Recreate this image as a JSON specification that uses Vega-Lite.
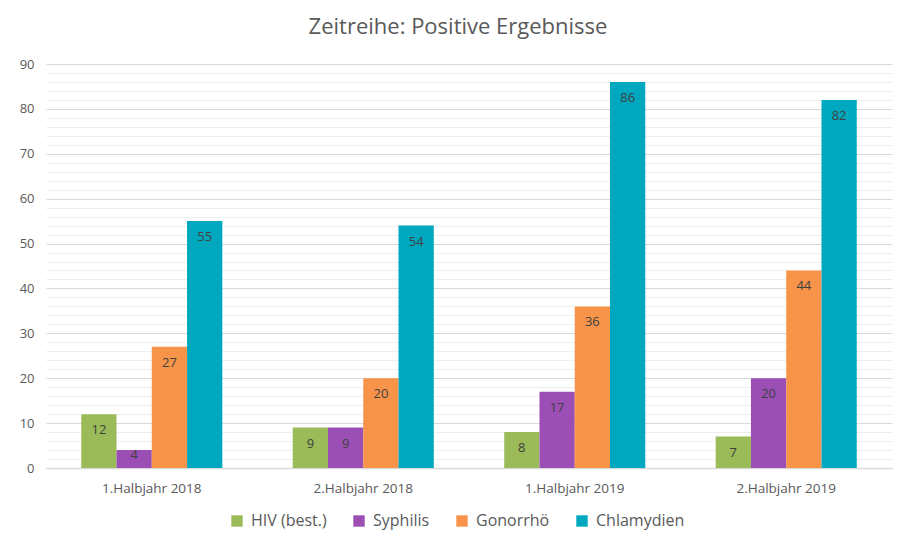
{
  "$schema": "https://vega.github.io/schema/vega-lite/v6.json",
  "autosize": "none",
  "width": 846,
  "height": 404,
  "padding": {"left": 46, "top": 64, "right": 6, "bottom": 74},
  "background": "white",
  "title": {"text": "Zeitreihe: Positive Ergebnisse", "font": "Open Sans", "fontSize": 22, "fontWeight": "normal", "color": "#595959", "offset": 19, "dx": -11, "anchor": "middle"},
  "data": {"values": [
    {"period": "1.Halbjahr 2018", "disease": "HIV (best.)", "value": 12},
    {"period": "1.Halbjahr 2018", "disease": "Syphilis", "value": 4},
    {"period": "1.Halbjahr 2018", "disease": "Gonorrhö", "value": 27},
    {"period": "1.Halbjahr 2018", "disease": "Chlamydien", "value": 55},
    {"period": "2.Halbjahr 2018", "disease": "HIV (best.)", "value": 9},
    {"period": "2.Halbjahr 2018", "disease": "Syphilis", "value": 9},
    {"period": "2.Halbjahr 2018", "disease": "Gonorrhö", "value": 20},
    {"period": "2.Halbjahr 2018", "disease": "Chlamydien", "value": 54},
    {"period": "1.Halbjahr 2019", "disease": "HIV (best.)", "value": 8},
    {"period": "1.Halbjahr 2019", "disease": "Syphilis", "value": 17},
    {"period": "1.Halbjahr 2019", "disease": "Gonorrhö", "value": 36},
    {"period": "1.Halbjahr 2019", "disease": "Chlamydien", "value": 86},
    {"period": "2.Halbjahr 2019", "disease": "HIV (best.)", "value": 7},
    {"period": "2.Halbjahr 2019", "disease": "Syphilis", "value": 20},
    {"period": "2.Halbjahr 2019", "disease": "Gonorrhö", "value": 44},
    {"period": "2.Halbjahr 2019", "disease": "Chlamydien", "value": 82}
  ]},
  "encoding": {
    "x": {"field": "period", "type": "nominal", "sort": null, "title": null,
      "scale": {"paddingInner": 0.333, "paddingOuter": 0.1667},
      "axis": {"labelAngle": 0, "labelFont": "Open Sans", "labelFontSize": 13.5, "labelColor": "#595959", "ticks": false, "domainColor": "#D9D9D9", "domainWidth": 1.5, "labelPadding": 13}},
    "xOffset": {"field": "disease", "type": "nominal", "sort": ["HIV (best.)", "Syphilis", "Gonorrhö", "Chlamydien"], "scale": {"paddingInner": 0, "paddingOuter": 0}},
    "y": {"field": "value", "type": "quantitative", "title": null,
      "scale": {"domain": [0, 90], "nice": false},
      "axis": {"values": [0,2,4,6,8,10,12,14,16,18,20,22,24,26,28,30,32,34,36,38,40,42,44,46,48,50,52,54,56,58,60,62,64,66,68,70,72,74,76,78,80,82,84,86,88,90],
        "labelExpr": "datum.value % 10 === 0 ? datum.label : ''",
        "gridColor": {"condition": {"test": "datum.value % 10 === 0", "value": "#D9D9D9"}, "value": "#EEEEEE"},
        "ticks": false, "domain": false, "labelFont": "Open Sans", "labelFontSize": 13, "labelColor": "#595959", "labelPadding": 12}}
  },
  "layer": [
    {"mark": {"type": "bar"},
      "encoding": {"color": {"field": "disease", "type": "nominal", "sort": ["HIV (best.)", "Syphilis", "Gonorrhö", "Chlamydien"],
        "scale": {"domain": ["HIV (best.)", "Syphilis", "Gonorrhö", "Chlamydien"], "range": ["#9BBB59", "#9B4FB5", "#F7944A", "#00A8BF"]},
        "legend": {"title": null, "orient": "none", "legendX": 183, "legendY": 449, "direction": "horizontal", "symbolType": "square", "symbolSize": 130, "symbolStrokeWidth": 0, "labelFont": "Open Sans", "labelFontSize": 16, "labelColor": "#595959", "columnPadding": 24, "labelOffset": 6}}}},
    {"transform": [{"filter": "datum.value >= 7"}],
      "mark": {"type": "text", "baseline": "middle", "dy": 16, "font": "Open Sans", "fontSize": 13, "color": "#404040"},
      "encoding": {"text": {"field": "value", "type": "quantitative"}}},
    {"transform": [{"filter": "datum.value < 7"}],
      "mark": {"type": "text", "baseline": "middle", "dy": 5, "font": "Open Sans", "fontSize": 13, "color": "#404040"},
      "encoding": {"text": {"field": "value", "type": "quantitative"}}}
  ],
  "config": {"view": {"stroke": null}}
}
